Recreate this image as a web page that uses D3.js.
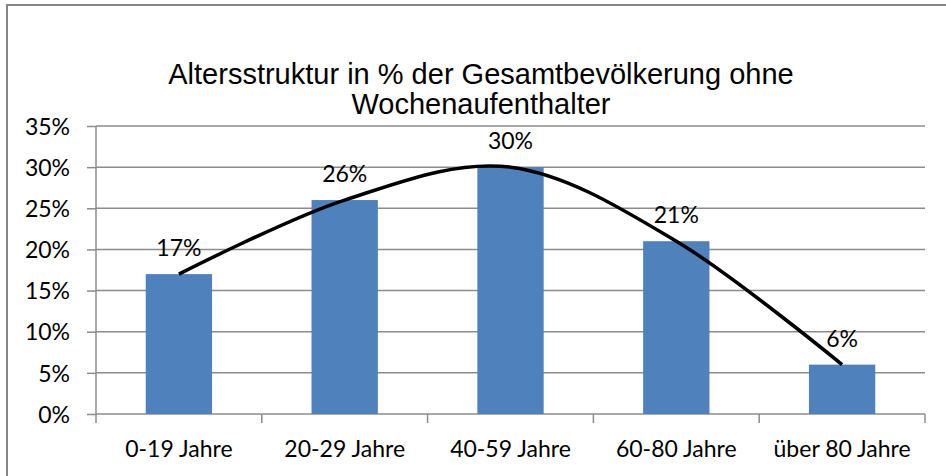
<!DOCTYPE html>
<html>
<head>
<meta charset="utf-8">
<script src="https://cdn.jsdelivr.net/npm/d3@7"></script>
<style>
  body { margin: 0; background: #fff; }
  svg { display: block; }
  .title { font-family: "Liberation Sans", Arial, sans-serif; font-size: 29px; fill: #000; }
  .axis text, .lbl { font-family: Lato, "Open Sans", sans-serif; font-size: 23px; fill: #000; }
</style>
</head>
<body>
<div id="chart"></div>
<script>
// data
var categories = ["0-19 Jahre", "20-29 Jahre", "40-59 Jahre", "60-80 Jahre", "über 80 Jahre"];
var shares = [0.17, 0.26, 0.30, 0.21, 0.06];
var yTicks = [0, 0.05, 0.10, 0.15, 0.20, 0.25, 0.30, 0.35];
var titleLines = ["Altersstruktur in % der Gesamtbevölkerung ohne", "Wochenaufenthalter"];

var W = 946, H = 476;
var margin = { top: 126, left: 96, right: 21, bottom: 62 };
var w = W - margin.left - margin.right,
    h = H - margin.top - margin.bottom;

var svg = d3.select("#chart").append("svg")
    .attr("width", W)
    .attr("height", H);

// chart border (runs off the right and bottom edge)
svg.append("rect")
    .attr("x", 7).attr("y", 5)
    .attr("width", W).attr("height", H)
    .attr("fill", "none")
    .attr("stroke", "#868686")
    .attr("stroke-width", 2);

svg.selectAll("text.title")
    .data(titleLines)
  .enter().append("text")
    .attr("class", "title")
    .attr("x", 481)
    .attr("y", function(d, i) { return 84 + i * 30; })
    .attr("text-anchor", "middle")
    .text(function(d) { return d; });

var g = svg.append("g")
    .attr("transform", "translate(" + margin.left + "," + margin.top + ")");

var x = d3.scaleBand()
    .domain(categories)
    .range([0, w])
    .paddingInner(0.6)
    .paddingOuter(0.3);

var y = d3.scaleLinear()
    .domain([0, 0.35])
    .range([h, 0]);

var fmt = d3.format(".0%");

// gridlines
g.selectAll("line.grid")
    .data(yTicks.slice(1))
  .enter().append("line")
    .attr("class", "grid")
    .attr("x1", 0).attr("x2", w)
    .attr("y1", function(d) { return y(d); })
    .attr("y2", function(d) { return y(d); })
    .attr("stroke", "#8c8c8c")
    .attr("stroke-width", 1.5);

// y axis
var yAxis = g.append("g")
    .attr("class", "axis")
    .call(d3.axisLeft(y).tickValues(yTicks).tickFormat(fmt).tickSize(9).tickPadding(17));
yAxis.selectAll("line, path").attr("stroke", "#8c8c8c").attr("stroke-width", 1.5);
yAxis.select(".domain").attr("d", "M0," + h + "V0");
yAxis.selectAll("text").attr("dy", "0.36em");

// x axis: ticks sit on the category boundaries
var step = x.step();
var bounds = d3.range(categories.length + 1).map(function(i) { return i * step; });
var xAxis = g.append("g")
    .attr("class", "axis")
    .attr("transform", "translate(0," + h + ")");
xAxis.append("line")
    .attr("x1", 0).attr("x2", w)
    .attr("stroke", "#8c8c8c").attr("stroke-width", 1.5);
xAxis.selectAll("line.tick")
    .data(bounds)
  .enter().append("line")
    .attr("class", "tick")
    .attr("x1", function(d) { return d; })
    .attr("x2", function(d) { return d; })
    .attr("y1", 0).attr("y2", 9)
    .attr("stroke", "#8c8c8c").attr("stroke-width", 1.5);
xAxis.selectAll("text")
    .data(categories)
  .enter().append("text")
    .attr("x", function(d) { return x(d) + x.bandwidth() / 2; })
    .attr("y", 43)
    .attr("text-anchor", "middle")
    .text(function(d) { return d; });

// bars
g.selectAll("rect.bar")
    .data(shares)
  .enter().append("rect")
    .attr("class", "bar")
    .attr("x", function(d, i) { return x(categories[i]); })
    .attr("y", function(d) { return y(d); })
    .attr("width", x.bandwidth())
    .attr("height", function(d) { return h - y(d); })
    .attr("fill", "#4f81bd");

// smoothed line through bar tops
var line = d3.line()
    .x(function(d, i) { return x(categories[i]) + x.bandwidth() / 2; })
    .y(function(d) { return y(d); })
    .curve(d3.curveCardinal.tension(0));

g.append("path")
    .datum(shares)
    .attr("d", line)
    .attr("fill", "none")
    .attr("stroke", "#000")
    .attr("stroke-width", 3.5);

// value labels
g.selectAll("text.lbl")
    .data(shares)
  .enter().append("text")
    .attr("class", "lbl")
    .attr("x", function(d, i) { return x(categories[i]) + x.bandwidth() / 2; })
    .attr("y", function(d) { return y(d) - 18; })
    .attr("text-anchor", "middle")
    .text(function(d) { return fmt(d); });
</script>
</body>
</html>
